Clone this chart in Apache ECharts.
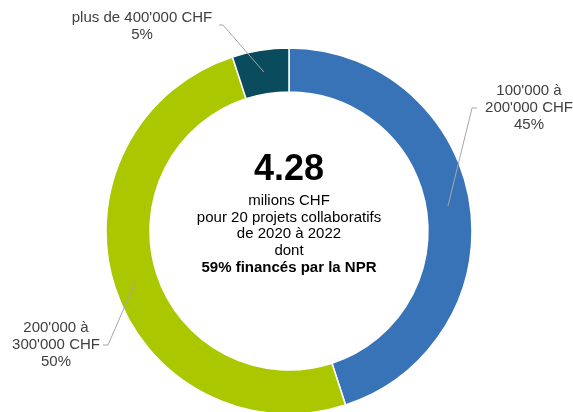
<!DOCTYPE html>
<html>
<head>
<meta charset="utf-8">
<script src="https://cdn.jsdelivr.net/npm/echarts@6/dist/echarts.min.js"></script>
<style>
html, body { margin: 0; padding: 0; background: #fff; }
#chart { width: 573px; height: 412px; }
</style>
</head>
<body>
<div id="chart"></div>
<script>
// slices, clockwise from 12 o'clock
const categories = ["100'000 à\n200'000 CHF", "200'000 à\n300'000 CHF", "plus de 400'000 CHF"]
const shares = [45, 50, 5]
const colors = ['#3873B8', '#AAC700', '#0B4B5E']

// text in the hole
const total = '4.28'
const centerLines = ['milions CHF', 'pour 20 projets collaboratifs', 'de 2020 à 2022', 'dont']
const centerBold = '59% financés par la NPR'

const cx = 289
const cy = 231
const rIn = 139
const rOut = 183
const font = 'Liberation Sans, Arial, sans-serif'

// where each label sits and the elbow of its leader line
const labelPlace = [
  { x: 529, y: 108, elbow: [[472, 108], [477, 108]] },
  { x: 56, y: 345, elbow: [[108, 345], [103, 345]] },
  { x: 142, y: 26, elbow: [[223, 25], [219, 25]] }
]

const sum = shares.reduce((a, b) => a + b, 0)
const midAngles = []
let acc = 0
shares.forEach(v => {
  midAngles.push(90 - (acc + v / 2) / sum * 360)
  acc += v
})

const chart = echarts.init(document.getElementById('chart'))

const graphic = [{
  type: 'text',
  x: cx,
  y: 170,
  style: { text: total, align: 'center', verticalAlign: 'middle', fontSize: 36, fontWeight: 'bold', fontFamily: font, fill: '#000' }
}]
centerLines.concat([centerBold]).forEach((t, i) => {
  graphic.push({
    type: 'text',
    x: cx,
    y: 201 + i * 16.6,
    style: {
      text: t,
      align: 'center',
      verticalAlign: 'middle',
      fontSize: 15,
      fontWeight: t === centerBold ? 'bold' : 'normal',
      fontFamily: font,
      fill: '#000'
    }
  })
})

// leader lines drawn on top of the ring, starting mid-ring at each slice's middle angle
midAngles.forEach((deg, i) => {
  const a = deg * Math.PI / 180
  const rm = (rIn + rOut) / 2
  graphic.push({
    type: 'polyline',
    z: 100,
    shape: { points: [[cx + rm * Math.cos(a), cy - rm * Math.sin(a)]].concat(labelPlace[i].elbow) },
    style: { stroke: '#A6A6A6', lineWidth: 1, fill: null }
  })
})

chart.setOption({
  animation: false,
  graphic: graphic,
  series: [
    {
      type: 'pie',
      center: [cx, cy],
      radius: [rIn, rOut],
      startAngle: 90,
      clockwise: true,
      emphasis: { disabled: true },
      itemStyle: { borderColor: '#fff', borderWidth: 1.5 },
      label: {
        show: true,
        position: 'outside',
        formatter: '{b}\n{d}%',
        fontSize: 15,
        lineHeight: 17,
        fontFamily: font,
        color: '#404040',
        align: 'center',
        overflow: 'none'
      },
      labelLine: { show: false },
      labelLayout: function (params) {
        const p = labelPlace[params.dataIndex]
        return { x: p.x, y: p.y, align: 'center', verticalAlign: 'middle' }
      },
      data: categories.map((c, i) => ({ name: c, value: shares[i], itemStyle: { color: colors[i] } }))
    }
  ]
})
</script>
</body>
</html>
